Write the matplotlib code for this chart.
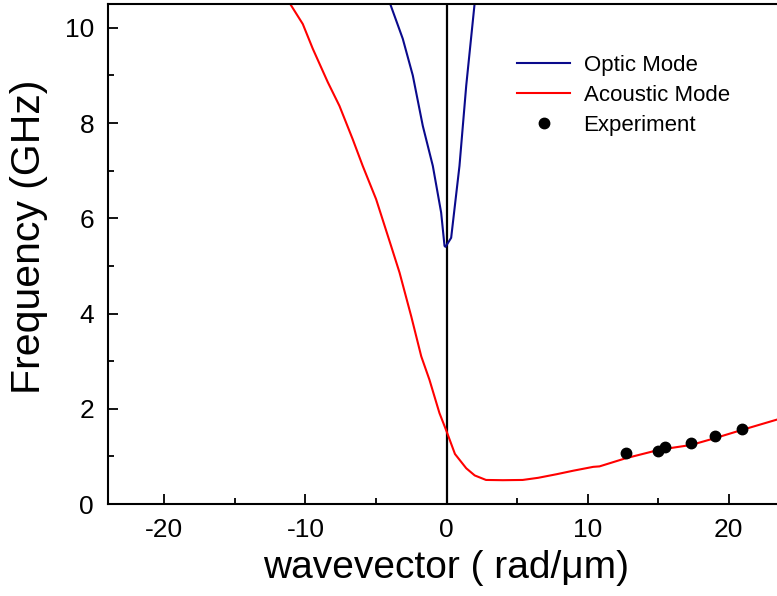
import matplotlib
matplotlib.use("Agg")
import matplotlib.pyplot as plt
from matplotlib.ticker import MultipleLocator

plt.rcParams['font.family'] = ['Liberation Sans', 'DejaVu Sans']
plt.rcParams['axes.unicode_minus'] = False

# Acoustic mode (red)
acoustic_k = [-11.6, -11.08, -10.19, -9.48, -8.42, -7.59, -6.65, -5.94, -4.99, -3.93, -3.33, -2.5, -1.79, -1.21, -0.5, 0.0, 0.6, 1.4, 2.0, 2.8, 4.0, 5.4, 6.5, 7.8, 9.0, 10.4, 10.85, 12.7, 15.1, 17.35, 19.0, 21.0, 23.4, 25.0]
acoustic_f = [11.0, 10.5, 10.08, 9.56, 8.86, 8.36, 7.66, 7.1, 6.4, 5.42, 4.86, 3.94, 3.1, 2.61, 1.91, 1.53, 1.05, 0.75, 0.6, 0.505, 0.5, 0.505, 0.55, 0.625, 0.7, 0.78, 0.79, 0.96, 1.14, 1.24, 1.38, 1.56, 1.77, 1.9]

# Optic mode (blue)
optic_k = [-4.3, -3.99, -3.1, -2.39, -1.68, -0.97, -0.38, -0.14, -0.07, 0.33, 0.92, 1.4, 1.99, 2.1]
optic_f = [11.0, 10.5, 9.77, 9.0, 7.94, 7.1, 6.12, 5.42, 5.40, 5.59, 7.1, 8.79, 10.5, 11.0]

# Experiment
exp_k = [12.7, 15.0, 15.5, 17.35, 19.05, 20.97]
exp_f = [1.08, 1.12, 1.20, 1.29, 1.43, 1.57]

fig = plt.figure(figsize=(7.77, 5.96), dpi=100)
ax_w = 677
ax = fig.add_axes([108/777, 92/596, ax_w/777, 500/596])

ax.axvline(0, color='black', lw=1.6, zorder=1)
ax.plot(optic_k, optic_f, color='#0a0a8c', lw=1.5, label='Optic Mode', zorder=2)
ax.plot(acoustic_k, acoustic_f, color='#ff0000', lw=1.5, label='Acoustic Mode', zorder=2)
ax.plot(exp_k, exp_f, 'o', color='black', ms=7.5, label='Experiment', zorder=3)

ax.set_xlim(-24, 24)
ax.set_ylim(0, 10.5)
ax.xaxis.set_major_locator(MultipleLocator(10))
ax.xaxis.set_minor_locator(MultipleLocator(5))
ax.yaxis.set_major_locator(MultipleLocator(2))
ax.yaxis.set_minor_locator(MultipleLocator(1))
ax.tick_params(which='both', direction='in', width=1.3, labelsize=19)
ax.tick_params(which='major', length=7, pad=10)
ax.tick_params(which='minor', length=4)
for s in ax.spines.values():
    s.set_linewidth(1.5)

ax.set_xlabel('wavevector ( rad/μm)', fontsize=28, labelpad=6)
ax.set_ylabel('Frequency (GHz)', fontsize=29.5)
ax.yaxis.label.set_va('center')
ax.yaxis.set_label_coords((29 - 108) / ax_w, (504 - 237) / 500)

leg = ax.legend(loc='upper left', bbox_to_anchor=(400/ax_w, 1 - 42/500), frameon=False,
                fontsize=16, handlelength=2.4, numpoints=1, labelspacing=0.4,
                handletextpad=0.6, borderaxespad=0)

fig.savefig('out.png', dpi=100)
